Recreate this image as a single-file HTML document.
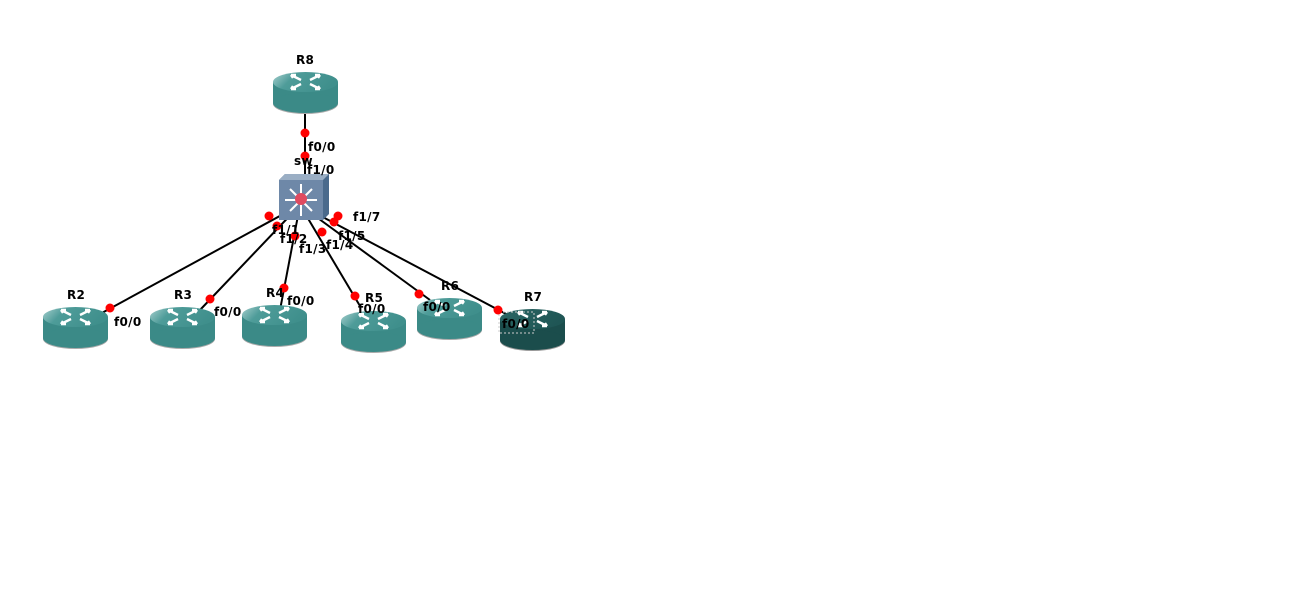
<!DOCTYPE html>
<html><head><meta charset="utf-8"><style>
html,body{margin:0;padding:0;background:#fff;width:1290px;height:594px;overflow:hidden}
svg text{font-family:"DejaVu Sans","Liberation Sans",sans-serif;font-weight:bold;font-size:12px;fill:#000;letter-spacing:0.3px}
</style></head><body>
<svg width="1290" height="594" xmlns="http://www.w3.org/2000/svg">
<defs>
<linearGradient id="top" x1="0" y1="0" x2="1" y2="0.3">
<stop offset="0" stop-color="#a8d0cf"/><stop offset="0.35" stop-color="#4e9c99"/><stop offset="1" stop-color="#3f8f8c"/></linearGradient>
<linearGradient id="topd" x1="0" y1="0" x2="1" y2="0.3">
<stop offset="0" stop-color="#2a6664"/><stop offset="1" stop-color="#1f5655"/></linearGradient>
<g id="arr" stroke="#fff" stroke-width="2.4" fill="none">
<path d="M28 8 L18 3 M18 3 L23 3 M18 3 L20 6"/>
<path d="M37 8 L47 3 M47 3 L42 3 M47 3 L45 6"/>
<path d="M28 12 L18 17 M18 17 L23 17 M18 17 L20 14"/>
<path d="M37 12 L47 17 M47 17 L42 17 M47 17 L45 14"/>
</g>
<g id="rt">
<ellipse cx="32.5" cy="32" rx="32.5" ry="10" fill="#aaa"/>
<rect x="0" y="10" width="65" height="21" fill="#3b8a87"/>
<ellipse cx="32.5" cy="31" rx="32.5" ry="10" fill="#3b8a87"/>
<ellipse cx="32.5" cy="10" rx="32.5" ry="10" fill="url(#top)"/>
<use href="#arr"/>
</g>
<g id="rtd">
<ellipse cx="32.5" cy="32" rx="32.5" ry="10" fill="#999"/>
<rect x="0" y="10" width="65" height="21" fill="#1b4d4c"/>
<ellipse cx="32.5" cy="31" rx="32.5" ry="10" fill="#1b4d4c"/>
<ellipse cx="32.5" cy="10" rx="32.5" ry="10" fill="url(#topd)"/>
<use href="#arr"/>
</g>
</defs>
<g stroke="#000" stroke-width="2">
<line x1="305" y1="112" x2="305" y2="175"/>
<line x1="300" y1="205" x2="100" y2="314"/>
<line x1="300" y1="205" x2="200" y2="310"/>
<line x1="300" y1="205" x2="280" y2="310"/>
<line x1="300" y1="205" x2="360" y2="306"/>
<line x1="300" y1="205" x2="430" y2="300"/>
<line x1="300" y1="205" x2="510" y2="316"/>
</g>
<use href="#rt" x="273" y="72"/>
<use href="#rt" x="43" y="307"/>
<use href="#rt" x="150" y="307"/>
<use href="#rt" x="242" y="305"/>
<use href="#rt" x="341" y="311"/>
<use href="#rt" x="417" y="298"/>
<use href="#rtd" x="500" y="309"/>
<rect x="499" y="312" width="35" height="21" fill="none" stroke="#ccc" stroke-dasharray="2,2"/>
<polygon points="279,180 285,174 329,174 329,214 323,220 279,220" fill="#4a6a8c"/>
<rect x="279" y="180" width="44" height="40" fill="#6e88a8"/>
<polygon points="279,180 285,174 329,174 323,180" fill="#9aaec4"/>
<g stroke="#fff" stroke-width="2">
<line x1="301" y1="200" x2="301" y2="184"/><line x1="301" y1="200" x2="301" y2="216"/>
<line x1="301" y1="200" x2="285" y2="200"/><line x1="301" y1="200" x2="317" y2="200"/>
<line x1="301" y1="200" x2="290" y2="189"/><line x1="301" y1="200" x2="312" y2="189"/>
<line x1="301" y1="200" x2="290" y2="211"/><line x1="301" y1="200" x2="312" y2="211"/>
</g>
<circle cx="301" cy="199" r="6" fill="#e04a60"/>
<g fill="#f00">
<circle cx="305" cy="133" r="4.5"/><circle cx="305" cy="156" r="4.5"/>
<circle cx="269" cy="216" r="4.5"/><circle cx="277" cy="226" r="4.5"/><circle cx="295" cy="236" r="4.5"/>
<circle cx="322" cy="232" r="4.5"/><circle cx="334" cy="222" r="4.5"/><circle cx="338" cy="216" r="4.5"/>
<circle cx="110" cy="308" r="4.5"/><circle cx="210" cy="299" r="4.5"/><circle cx="284" cy="288" r="4.5"/>
<circle cx="355" cy="296" r="4.5"/><circle cx="419" cy="294" r="4.5"/><circle cx="498" cy="310" r="4.5"/>
</g>
<text x="296" y="64">R8</text>
<text x="294" y="165">sw</text>
<text x="308" y="151">f0/0</text>
<text x="307" y="174">f1/0</text>
<text x="353" y="221">f1/7</text>
<text x="272" y="234">f1/1</text>
<text x="280" y="243">f1/2</text>
<text x="299" y="253">f1/3</text>
<text x="326" y="249">f1/4</text>
<text x="338" y="240">f1/5</text>
<text x="67" y="299">R2</text>
<text x="174" y="299">R3</text>
<text x="266" y="297">R4</text>
<text x="365" y="302">R5</text>
<text x="441" y="290">R6</text>
<text x="524" y="301">R7</text>
<text x="114" y="326">f0/0</text>
<text x="214" y="316">f0/0</text>
<text x="287" y="305">f0/0</text>
<text x="358" y="313">f0/0</text>
<text x="423" y="311">f0/0</text>
<text x="502" y="328">f0/0</text>
</svg>
</body></html>
